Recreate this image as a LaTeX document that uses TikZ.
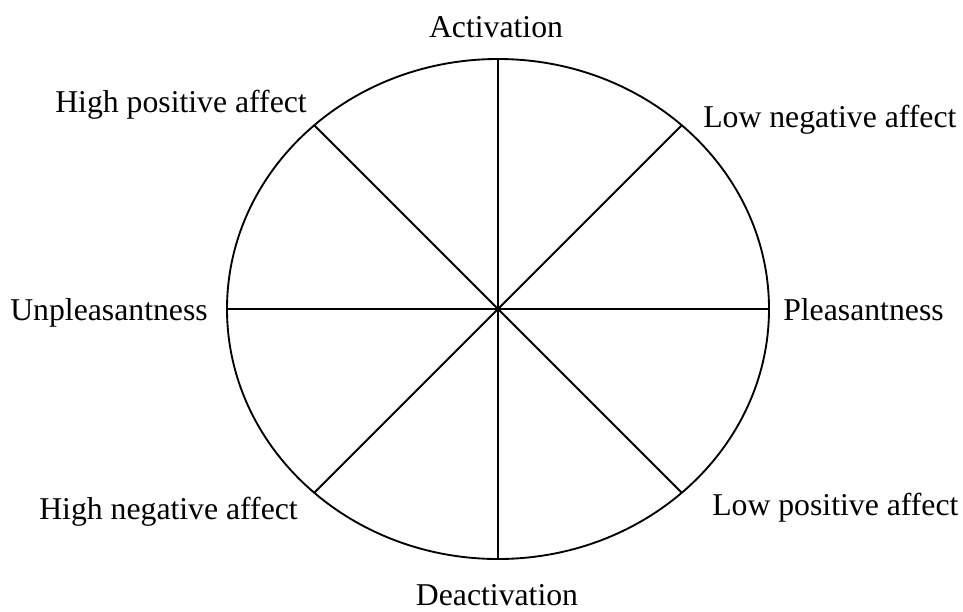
\documentclass[tikz,border=0pt]{standalone}
\usepackage{fontspec}
\setmainfont{Liberation Serif}
\begin{document}
\begin{tikzpicture}[x=0.75pt,y=-0.75pt,
  axis/.style={line width=1.4pt},
  lbl/.style={font=\fontsize{23.8}{28}\selectfont, inner sep=0pt}]
\useasboundingbox (0,0) rectangle (963,611);
% centre and the eight points on the rim
\coordinate (O) at (498,309);
\coordinate (N)  at (498,59);
\coordinate (S)  at (498,559);
\coordinate (W)  at (227,309);
\coordinate (E)  at (769,309);
\coordinate (NE) at (681.75,125.25);
\coordinate (NW) at (314.25,125.25);
\coordinate (SW) at (314.25,492.75);
\coordinate (SE) at (681.75,492.75);
% outer ellipse
\draw[axis] (O) ellipse [x radius=203.25pt, y radius=187.5pt];
% spokes
\foreach \p in {N,S,W,E,NE,NW,SW,SE}
  \draw[axis] (O) -- (\p);
% labels
\node[lbl, anchor=base] (act) at (496,37) {Activation};
\node[lbl, anchor=base] (deact) at (497,605) {Deactivation};
\node[lbl, anchor=base east] (unpl) at (208,320) {Unpleasantness};
\node[lbl, anchor=base west] (pl) at (783,320) {Pleasantness};
\node[lbl, anchor=base east] (hpa) at (307,112) {High positive affect};
\node[lbl, anchor=base west] (lna) at (703,127) {Low negative affect};
\node[lbl, anchor=base east] (hna) at (298,519) {High negative affect};
\node[lbl, anchor=base west] (lpa) at (712,515) {Low positive affect};
\end{tikzpicture}
\end{document}
